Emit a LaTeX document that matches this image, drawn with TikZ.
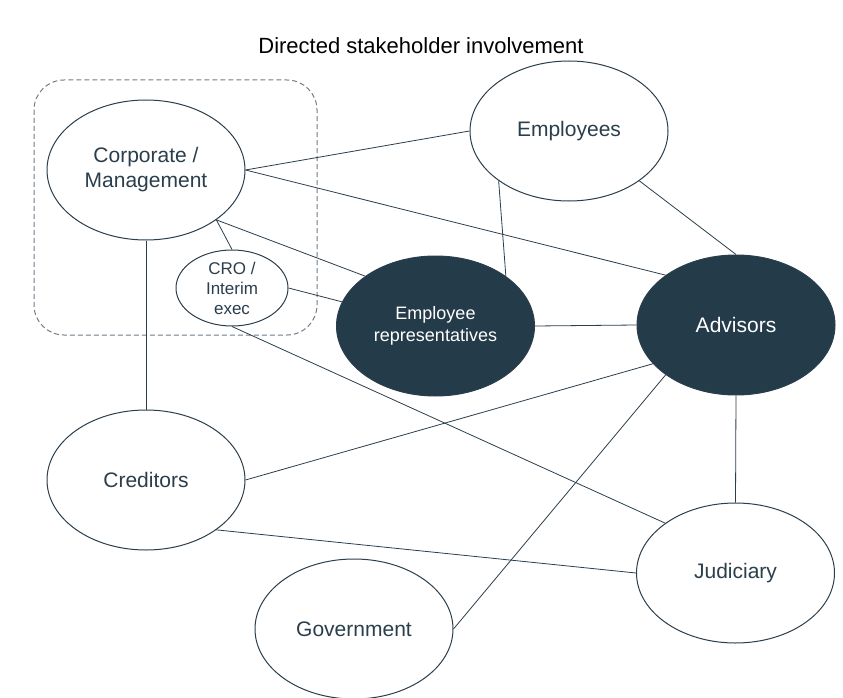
\documentclass[tikz,border=0pt]{standalone}
\usepackage{fontspec}
\setmainfont{Liberation Sans}
\usetikzlibrary{shapes.geometric}
\definecolor{ink}{HTML}{2B3E4C}
\definecolor{darkfill}{HTML}{243B4A}
\definecolor{dashgray}{HTML}{6E7C87}
\tikzset{
  stake/.style={ellipse, draw=ink, line width=1pt, fill=white, text=ink,
    minimum width=198pt, minimum height=140pt, inner sep=0pt, align=center,
    font=\fontsize{21}{25}\selectfont},
  dark/.style={fill=darkfill, text=white},
  link/.style={draw=ink, line width=0.8pt},
  group/.style={draw=dashgray, line width=1pt, dash pattern=on 5pt off 3pt, rounded corners=30pt}
}
\begin{document}
\begin{tikzpicture}[x=1pt,y=-1pt]
\useasboundingbox (0,0) rectangle (843,698);
\node[font=\fontsize{22}{26}\selectfont, text=black] (title) at (421,46) {Directed stakeholder involvement};
\draw[group] (34,80) rectangle (317,335);
\node[stake] (corp) at (146,170) {Corporate /\\Management};
\node[stake] (emp) at (569,131) {Employees};
\node[stake, minimum width=112pt, minimum height=76pt, font=\fontsize{17}{20}\selectfont] (cro) at (232,288) {CRO /\\Interim\\exec};
\node[stake, dark, font=\fontsize{18}{22}\selectfont] (rep) at (435.5,326) {Employee\\representatives};
\node[stake, dark] (adv) at (736,325) {Advisors};
\node[stake] (cred) at (146,480) {Creditors};
\node[stake] (jud) at (735.5,573) {Judiciary};
\node[stake] (gov) at (354,629) {Government};
\draw[link] (corp.east) -- (emp.west);
\draw[link] (corp.east) -- (adv.north west);
\draw[link] (corp.south east) -- (rep.north west);
\draw[link] (corp.south east) -- (cro.north);
\draw[link] (corp.south) -- (cred.north);
\draw[link] (cro.east) -- (rep);
\draw[link] (cro.south) -- (jud.north west);
\draw[link] (emp.south west) -- (rep.north east);
\draw[link] (emp.south east) -- (adv.north);
\draw[link] (rep.east) -- (adv.west);
\draw[link] (cred.east) -- (adv.205);
\draw[link] (gov.east) -- (adv.south west);
\draw[link] (adv.south) -- (jud.north);
\draw[link] (cred.south east) -- (jud.west);
\end{tikzpicture}
\end{document}
